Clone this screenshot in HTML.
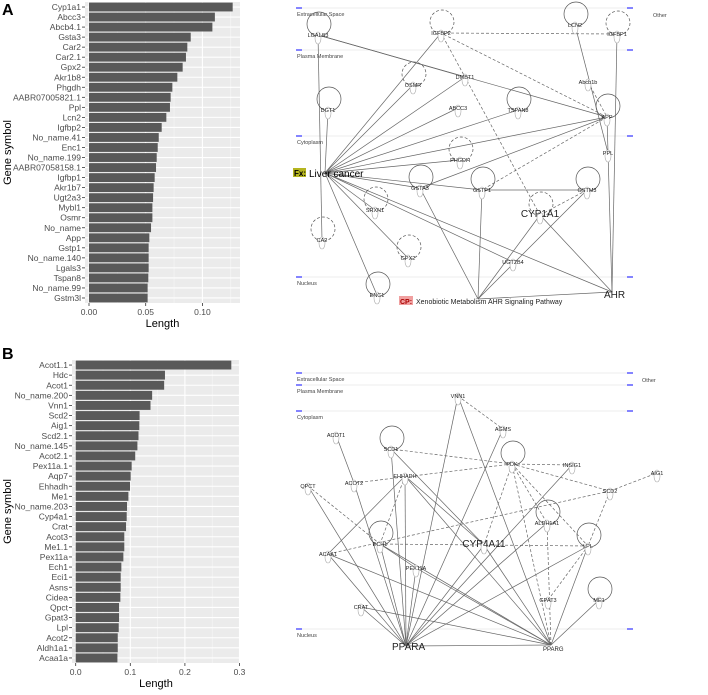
<!DOCTYPE html>
<html><head><meta charset="utf-8">
<style>
body{margin:0;background:#fff;font-family:"Liberation Sans",sans-serif;}
svg text{font-family:"Liberation Sans",sans-serif;}
</style></head>
<body>
<svg id="fig" width="708" height="690" viewBox="0 0 708 690">
<text x="2" y="15" font-size="16" font-weight="bold">A</text>
<text x="2" y="359" font-size="16" font-weight="bold">B</text>
<g id="chartA"></g>
<g id="chartB"></g>
<g id="netA"></g>
<g id="netB"></g>
</svg>
<script>
const genesA=["Cyp1a1","Abcc3","Abcb4.1","Gsta3","Car2","Car2.1","Gpx2","Akr1b8","Phgdh","AABR07005821.1","Ppl","Lcn2","Igfbp2","No_name.41","Enc1","No_name.199","AABR07058158.1","Igfbp1","Akr1b7","Ugt2a3","Mybl1","Osmr","No_name","App","Gstp1","No_name.140","Lgals3","Tspan8","No_name.99","Gstm3l"];
const valuesA=[0.1267,0.111,0.1088,0.0897,0.0867,0.0855,0.0826,0.0779,0.0735,0.072,0.0714,0.0682,0.0641,0.0615,0.0606,0.0597,0.0591,0.0579,0.057,0.0565,0.0559,0.0559,0.0547,0.0532,0.0526,0.0526,0.0526,0.0523,0.0517,0.0517];
const ticksA=[0,0.05,0.10];
const tickLabelsA=["0.00","0.05","0.10"];
const genesB=["Acot1.1","Hdc","Acot1","No_name.200","Vnn1","Scd2","Aig1","Scd2.1","No_name.145","Acot2.1","Pex11a.1","Aqp7","Ehhadh","Me1","No_name.203","Cyp4a1","Crat","Acot3","Me1.1","Pex11a","Ech1","Eci1","Asns","Cidea","Qpct","Gpat3","Lpl","Acot2","Aldh1a1","Acaa1a"];
const valuesB=[0.285,0.1635,0.162,0.140,0.137,0.117,0.1165,0.115,0.113,0.109,0.1025,0.1007,0.0995,0.0965,0.094,0.0934,0.0922,0.089,0.089,0.0873,0.0836,0.0824,0.0824,0.0818,0.0794,0.0794,0.0788,0.077,0.077,0.0764];
const ticksB=[0,0.1,0.2,0.3];
const tickLabelsB=["0.0","0.1","0.2","0.3"];
const NS="http://www.w3.org/2000/svg";
function mk(p,t,a,txt){const e=document.createElementNS(NS,t);for(const k in a)e.setAttribute(k,a[k]);if(txt!==undefined)e.textContent=txt;p.appendChild(e);return e;}

function bars(gid,genes,vals,ticks,labels,o){
 const g=document.getElementById(gid);
 const x=v=>o.x0+v*o.scale;
 const bw=(o.bottom-o.top)/genes.length;
 const y=i=>o.top+i*bw;
 const bg=mk(g,'rect',{x:o.left,y:o.top,width:o.right-o.left,height:o.bottom-o.top,fill:'#ebebeb'});
 
 
 for(let i=0;i<ticks.length;i++){
  const mid=ticks[i]+(ticks[1]-ticks[0])/2;
  if(x(mid)<o.right) mk(g,'line',{x1:x(mid),x2:x(mid),y1:o.top,y2:o.bottom,stroke:'#f7f7f7','stroke-width':0.6});
  mk(g,'line',{x1:x(ticks[i]),x2:x(ticks[i]),y1:o.top,y2:o.bottom,stroke:'#fff','stroke-width':1.1});
  mk(g,'line',{x1:x(ticks[i]),x2:x(ticks[i]),y1:o.bottom,y2:o.bottom+3,stroke:'#333','stroke-width':0.8});
  const t=mk(g,'text',{x:x(ticks[i]),y:o.bottom+12,'font-size':8.5,fill:'#4d4d4d','text-anchor':'middle'},labels[i]);
  
  
 }
 for(let i=0;i<genes.length;i++){
  const cy=y(i)+bw/2;
  mk(g,'line',{x1:o.left,x2:o.right,y1:cy,y2:cy,stroke:'#fff','stroke-width':1.1});
 }
 for(let i=0;i<genes.length;i++){
  const cy=y(i)+bw/2;
  const r=mk(g,'rect',{x:x(0),y:y(i)+0.6,width:x(vals[i])-x(0),height:bw-1.2,fill:'#595959'});
  
  
  mk(g,'line',{x1:o.left-3,x2:o.left,y1:cy,y2:cy,stroke:'#333','stroke-width':0.8});
  const t=mk(g,'text',{x:o.left-4,y:cy+3,'font-size':8.5,fill:'#4d4d4d','text-anchor':'end'},genes[i]);
  
  
 }
 const xt=mk(g,'text',{x:(o.left+o.right)/2,y:o.bottom+24,'font-size':11,fill:'#000','text-anchor':'middle'},'Length');
 
 
 const cyy=(o.top+o.bottom)/2;
 const yt=mk(g,'text',{x:11,y:cyy,'font-size':11,fill:'#000','text-anchor':'middle',transform:`rotate(-90 11 ${cyy})`},'Gene symbol');
 
 
}
bars('chartA',genesA,valuesA,ticksA,tickLabelsA,{left:85,right:240,top:2,bottom:303,x0:89,scale:1134});
bars('chartB',genesB,valuesB,ticksB,tickLabelsB,{left:72,right:240,top:360,bottom:663,x0:75.7,scale:546});

// network helper
function net(gid,comps,nodes,edges,loops,extra){
 const g=document.getElementById(gid);
 comps.forEach(c=>{
  mk(g,'line',{x1:296,x2:632,y1:c[1],y2:c[1],stroke:'#eee','stroke-width':1});
  mk(g,'line',{x1:296,x2:302,y1:c[1],y2:c[1],stroke:'#33f','stroke-width':1.2});
  mk(g,'line',{x1:627,x2:633,y1:c[1],y2:c[1],stroke:'#33f','stroke-width':1.2});
  const t=mk(g,'text',{x:297,y:c[1]+8,'font-size':5.5,fill:'#444'},c[0]);
  
  
 });
 edges.forEach(e=>{
  const a=nodes[e[0]],b=nodes[e[1]];
  const l=mk(g,'line',{x1:a[0],y1:a[1],x2:b[0],y2:b[1],stroke:'#666','stroke-width':0.7});
  if(e[2])l.setAttribute('stroke-dasharray','3,2');
 });
 loops.forEach(k=>{const n=nodes[k];mk(g,'circle',{cx:n[0]+1,cy:n[1]-11,r:12,fill:'none',stroke:'#555','stroke-width':0.7,'stroke-dasharray':n[3]?'3,2':'none'});});
 for(const k in nodes){
  const n=nodes[k];
  if(n[2]==='hub')continue;
  mk(g,'ellipse',{cx:n[0],cy:n[1]+3,rx:3,ry:6,fill:'#fff',stroke:'#aaa','stroke-width':0.6});
  const t=mk(g,'text',{x:n[0],y:n[1]+2,'font-size':n[2]==='big'?10:5.5,fill:'#222','text-anchor':'middle'},k);
  
  
 }
 extra(g);
}
const nodesA={LGALS3:[318,35],IGFBP2:[441,33,0,1],LCN2:[575,25],IGFBP1:[617,34,0,1],DMBT1:[465,77],OSMR:[413,85,0,1],ABCC3:[458,108],TSPAN8:[518,110],DGT1:[328,110],APP:[607,117],Abcb1b:[588,82],PPL:[608,153],PHGDH:[460,160,0,1],GSTA3:[420,188],GSTP1:[482,190],GSTM3:[587,190],SRXN1:[375,210,0,1],CYP1A1:[540,215,'big',1],CA2:[322,240,0,1],GPX2:[408,258,0,1],UGT2B4:[513,262],ENC1:[377,295],FX:[325,173,'hub'],CP:[478,299,'hub'],AHR:[612,292,'hub']};
const edgesA=[["FX","IGFBP2"],["FX","DMBT1"],["FX","OSMR"],["FX","ABCC3"],["FX","TSPAN8"],["FX","APP"],["FX","PHGDH"],["FX","GSTA3"],["FX","GSTP1"],["FX","SRXN1"],["FX","GPX2"],["FX","ENC1"],["FX","AHR"],["FX","UGT2B4"],["FX","DGT1"],["LGALS3","CA2"],["LGALS3","APP"],["DMBT1","LGALS3"],["IGFBP2","IGFBP1",1],["APP","IGFBP2",1],["CYP1A1","IGFBP2",1],["LCN2","PPL"],["AHR","IGFBP1"],["AHR","APP"],["APP","GSTA3"],["APP","GSTP1",1],["GSTP1","GSTM3"],["CYP1A1","GSTM3",1],["CP","GSTA3"],["CP","GSTP1"],["CP","CYP1A1"],["CP","GSTM3"],["CP","AHR"],["AHR","CYP1A1"],["Abcb1b","APP",1]];
net('netA',[["Extracellular Space",8],["Plasma Membrane",50],["Cytoplasm",136],["Nucleus",277]],nodesA,edgesA,["LGALS3","IGFBP2","LCN2","IGFBP1","OSMR","DGT1","TSPAN8","APP","PHGDH","GSTA3","GSTP1","GSTM3","SRXN1","CYP1A1","CA2","GPX2","ENC1"],g=>{
 mk(g,'text',{x:653,y:17,'font-size':5.5,fill:'#444'},'Other');
 mk(g,'rect',{x:293,y:168,width:13,height:9,fill:'#b5b520'});
 mk(g,'text',{x:294,y:176,'font-size':8,fill:'#000','font-weight':'bold'},'Fx:');
 const t=mk(g,'text',{x:309,y:177,'font-size':10,fill:'#000'},'Liver cancer');
 
 
 mk(g,'rect',{x:399,y:296,width:14,height:9,fill:'#f0a0a0'});
 mk(g,'text',{x:400,y:304,'font-size':7,fill:'#a00','font-weight':'bold'},'CP:');
 const c=mk(g,'text',{x:416,y:304,'font-size':7,fill:'#222'},'Xenobiotic Metabolism AHR Signaling Pathway');
 
 
 const a=mk(g,'text',{x:604,y:298,'font-size':10,fill:'#222'},'AHR');
 
 
});
const nodesB={VNN1:[458,396],AGMS:[503,429],ACOT1:[336,435],SCD1:[391,449],PDK:[512,464],INSIG1:[572,465],SCD2:[610,491],AIG1:[657,473],QPCT:[308,486],ACOT2:[354,483],EHHADH:[405,476],CYP4A11:[484,545,'big'],ECH1:[380,544],ACAA1:[328,554],PEX11A:[416,568],ALDH1A1:[547,523],LPL:[588,546],CRAT:[361,607],GPAT3:[548,600],ME1:[599,600],PA:[406,646,'hub'],PG:[551,645,'hub']};
const hubEdges=[["PA","VNN1"],["PA","ACOT2"],["PA","SCD1"],["PA","EHHADH"],["PA","QPCT"],["PA","ACAA1"],["PA","ECH1"],["PA","PEX11A"],["PA","CYP4A11"],["PA","AGMS"],["PA","INSIG1"],["PA","LPL"],["PA","PG"],["PA","CRAT"],["PA","ALDH1A1"],["PG","VNN1"],["PG","EHHADH"],["PG","PEX11A"],["PG","ACAA1"],["PG","CRAT"],["PG","LPL"],["PG","ME1"],["PG","PDK",1],["PG","ALDH1A1",1],["PG","ECH1"],["PG","CYP4A11"]];
const edgesB=hubEdges.concat([["PDK","SCD1",1],["PDK","ACOT2",1],["PDK","INSIG1",1],["PDK","SCD2",1],["PDK","CYP4A11",1],["PDK","ALDH1A1",1],["PDK","LPL",1],["SCD2","AIG1",1],["SCD2","ACAA1",1],["SCD2","LPL",1],["VNN1","AGMS",1],["ACOT1","ACOT2"],["EHHADH","CYP4A11"],["EHHADH","ECH1",1],["EHHADH","ACAA1"],["ECH1","LPL",1],["SCD1","CYP4A11"],["QPCT","ECH1",1],["GPAT3","LPL",1],["ECH1","PEX11A"]]);
net('netB',[["Extracellular Space",373],["Plasma Membrane",385],["Cytoplasm",411],["Nucleus",629]],nodesB,edgesB,["SCD1","PDK","ALDH1A1","ECH1","LPL","ME1"],g=>{
 mk(g,'text',{x:642,y:382,'font-size':5.5,fill:'#444'},'Other');
 const a=mk(g,'text',{x:392,y:650,'font-size':10,fill:'#222'},'PPARA');
 
 
 const b=mk(g,'text',{x:543,y:651,'font-size':6,fill:'#222'},'PPARG');
 
 
});
</script>
</body></html>
